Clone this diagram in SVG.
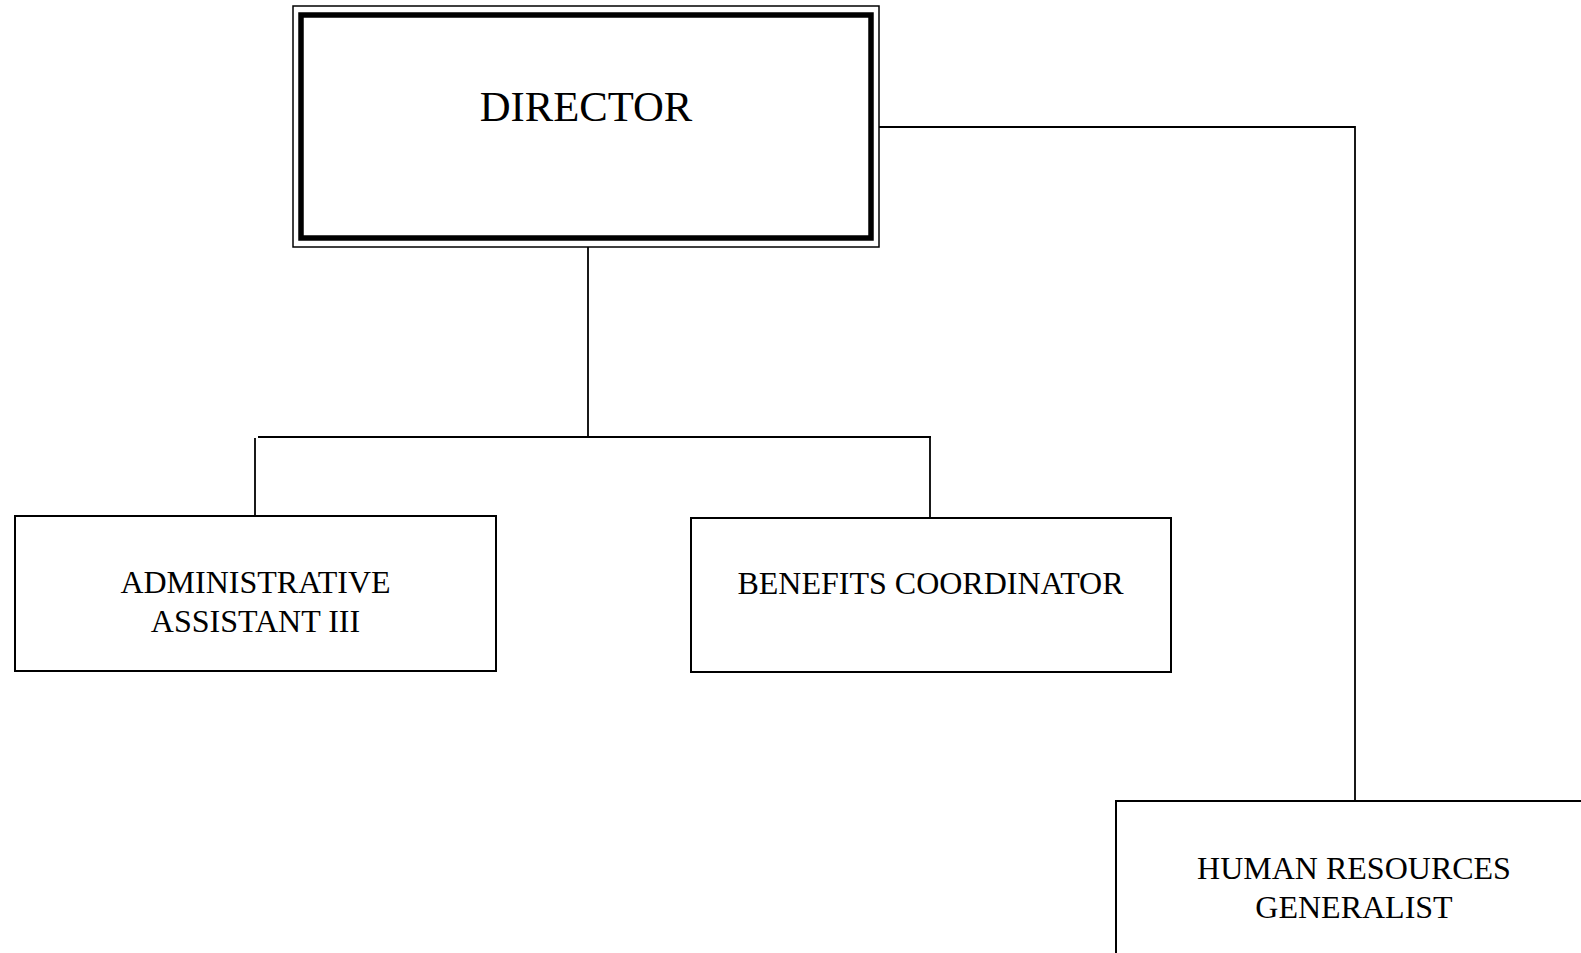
<svg xmlns="http://www.w3.org/2000/svg" width="1581" height="953" viewBox="0 0 1581 953">
<style>
.box{fill:#fff;stroke:#000;stroke-width:2}
.thin{fill:none;stroke:#000;stroke-width:1.5}
.thick{fill:none;stroke:#000;stroke-width:5.5}
.conn line{stroke:#000;stroke-width:1.8}
text{font-family:"Liberation Serif","Times New Roman",serif;fill:#000;text-anchor:middle}
.t{font-size:32px}
.big{font-size:42.7px}
</style>
<rect width="1581" height="953" fill="#fff"/>
<g id="connectors" class="conn">
<line x1="879" y1="127" x2="1355" y2="127"/>
<line x1="1355" y1="126" x2="1355" y2="801"/>
<line x1="588" y1="247" x2="588" y2="437"/>
<line x1="258" y1="437" x2="931" y2="437"/>
<line x1="255" y1="438" x2="255" y2="515"/>
<line x1="930" y1="436" x2="930" y2="517"/>
</g>
<g id="director">
<rect class="thin" x="293" y="6" width="586" height="241"/>
<rect class="thick" x="301" y="15" width="570" height="223"/>
<text class="big" x="586" y="121">DIRECTOR</text>
</g>
<g id="admin">
<rect class="box" x="15" y="516" width="481" height="155"/>
<text class="t" x="255.5" y="593">ADMINISTRATIVE</text>
<text class="t" x="255.5" y="632">ASSISTANT III</text>
</g>
<g id="benefits">
<rect class="box" x="691" y="518" width="480" height="154"/>
<text class="t" x="930.5" y="594">BENEFITS COORDINATOR</text>
</g>
<g id="hr">
<rect class="box" x="1116" y="801" width="478" height="170"/>
<text class="t" x="1354" y="879">HUMAN RESOURCES</text>
<text class="t" x="1354" y="918">GENERALIST</text>
</g>
</svg>
